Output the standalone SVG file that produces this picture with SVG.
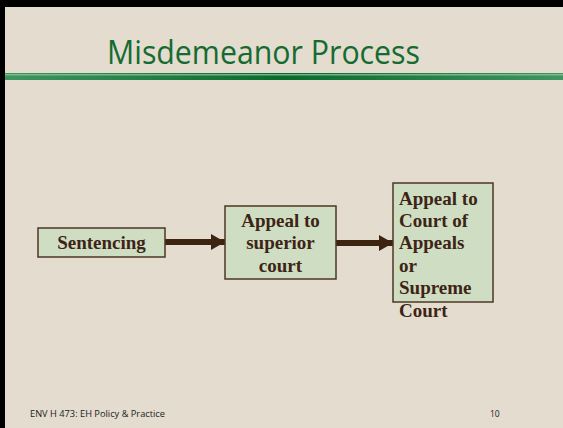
<svg xmlns="http://www.w3.org/2000/svg" width="563" height="428" viewBox="0 0 563 428">
<style>
.box{fill:#cfdec2;stroke:#4e3626;stroke-width:1.5}
.lbl{font-family:"Liberation Serif",serif;font-weight:bold;font-size:19px;fill:#3d2416}
.foot{font-family:"Open Sans",sans-serif;font-size:8.5px;fill:#222}
.conn{stroke:#3d2410;stroke-width:6;fill:none}
</style>
<defs>
<linearGradient id="band" x1="0" y1="0" x2="1" y2="0">
<stop offset="0" stop-color="#3f9660"/>
<stop offset="0.5" stop-color="#0a6a2c"/>
<stop offset="1" stop-color="#3f9660"/>
</linearGradient>
<marker id="ah" markerUnits="userSpaceOnUse" markerWidth="14" markerHeight="16" refX="14" refY="8" orient="auto">
<path d="M0,0 L14,8 L0,16 Z" fill="#3d2410"/>
</marker>
</defs>
<rect x="0" y="0" width="563" height="428" fill="#000"/>
<rect x="5" y="7" width="558" height="421" fill="#e3dccf"/>
<rect x="5" y="73" width="558" height="7" fill="url(#band)"/>
<rect x="5" y="74" width="558" height="1.5" fill="#8cc39c" opacity="0.8"/>
<text x="107" y="64" textLength="313" lengthAdjust="spacingAndGlyphs" style="font-family:'Open Sans',sans-serif;font-size:33px;fill:#156b30">Misdemeanor Process</text>
<g id="connectors">
<line class="conn" x1="165" y1="242" x2="225" y2="242" marker-end="url(#ah)"/>
<line class="conn" x1="336" y1="243" x2="393" y2="243" marker-end="url(#ah)"/>
</g>
<g id="sentencing">
<rect class="box" x="38" y="228" width="127" height="29"/>
<text class="lbl" x="101.5" y="249" text-anchor="middle">Sentencing</text>
</g>
<g id="superior">
<rect class="box" x="225" y="206" width="111" height="73"/>
<text class="lbl" x="280.5" y="227" text-anchor="middle">Appeal to</text>
<text class="lbl" x="280.5" y="249" text-anchor="middle">superior</text>
<text class="lbl" x="280.5" y="272" text-anchor="middle">court</text>
</g>
<g id="appeals">
<rect class="box" x="393" y="183" width="100" height="119"/>
<text class="lbl" x="399" y="205">Appeal to</text>
<text class="lbl" x="399" y="227">Court of</text>
<text class="lbl" x="399" y="249">Appeals</text>
<text class="lbl" x="399" y="272">or</text>
<text class="lbl" x="399" y="294">Supreme</text>
<text class="lbl" x="399" y="317">Court</text>
</g>
<text class="foot" x="30" y="417" textLength="135" lengthAdjust="spacingAndGlyphs">ENV H 473: EH Policy &amp; Practice</text>
<text class="foot" x="490" y="417">10</text>
</svg>
